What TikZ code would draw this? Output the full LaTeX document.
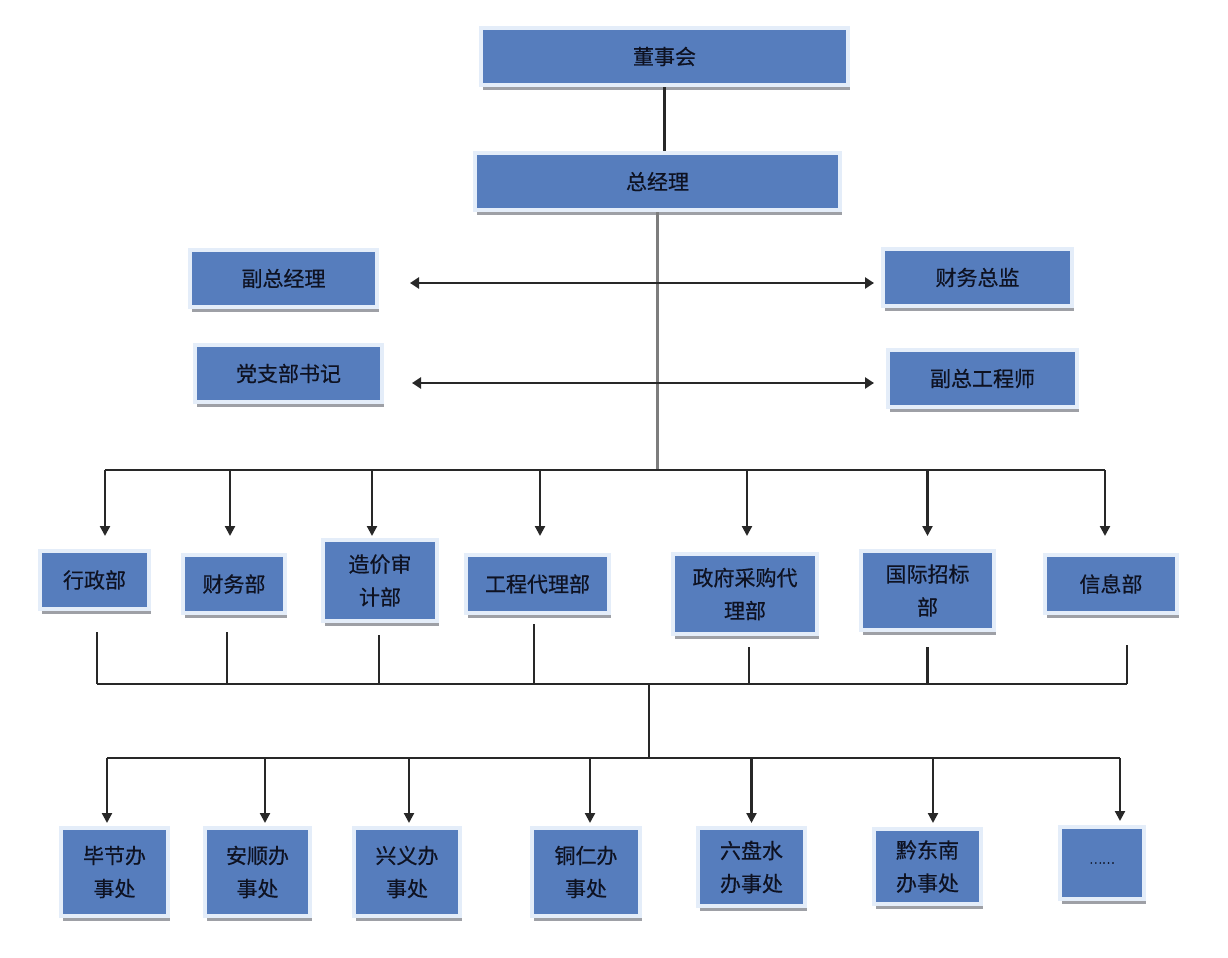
\documentclass[tikz,border=0pt]{standalone}
\usepackage{fontspec}
\newfontfamily\cjk[FakeBold=0.5]{Noto Sans CJK SC}
\usetikzlibrary{arrows.meta,shadows}
\definecolor{boxblue}{RGB}{86,125,189}
\definecolor{boxedge}{RGB}{228,237,249}
\definecolor{shadowgray}{RGB}{158,160,166}
\definecolor{txtdark}{RGB}{14,18,34}
\definecolor{linedark}{RGB}{40,40,40}
\definecolor{linegray}{RGB}{125,125,125}
\tikzset{
  orgbox/.style={rectangle, fill=boxblue, draw=boxedge, line width=2pt,
    inner sep=0pt, align=center, text=txtdark,
    font=\cjk\fontsize{10.5}{16.5}\selectfont,
    drop shadow={shadow xshift=1pt, shadow yshift=-2.5pt, fill=shadowgray, opacity=1}},
  ln/.style={draw=linedark, line width=1.1pt},
  trunk/.style={draw=linegray, line width=1.3pt},
  arr/.style={draw=linedark, line width=1.1pt, -{Triangle[width=5pt,length=5pt]}},
  darr/.style={draw=linedark, line width=1.2pt, {Triangle[width=5.5pt,length=4.5pt]}-{Triangle[width=5.5pt,length=4.5pt]}},
}
\begin{document}
\begin{tikzpicture}[x=0.5pt,y=-0.5pt]
\useasboundingbox[fill=white] (0,0) rectangle (1228,958);

% top
\node[orgbox, minimum width=183.5pt, minimum height=28.5pt] (dsh) at (664.5,56.5) {董事会};
\node[orgbox, minimum width=182.5pt, minimum height=28.5pt] (zjl) at (657.5,181.5) {总经理};
\node[orgbox, minimum width=93.5pt, minimum height=28.5pt] (fzjl) at (283.5,278.5) {副总经理};
\node[orgbox, minimum width=93.5pt, minimum height=28.5pt] (dzb) at (288.5,373.5) {党支部书记};
\node[orgbox, minimum width=94.5pt, minimum height=28.5pt] (cwzj) at (977.5,277.5) {财务总监};
\node[orgbox, minimum width=94.5pt, minimum height=28.5pt] (fzgcs) at (982.5,378.5) {副总工程师};

% row 2
\node[orgbox, minimum width=54.5pt, minimum height=29pt] (xzb) at (94.5,580) {行政部};
\node[orgbox, minimum width=51pt, minimum height=29pt] (cwb) at (234,584) {财务部};
\node[orgbox, minimum width=57pt, minimum height=40.5pt] (zjsj) at (380,580.5) {造价审\\计部};
\node[orgbox, minimum width=71.5pt, minimum height=29pt] (gcdl) at (537.5,584) {工程代理部};
\node[orgbox, minimum width=72pt, minimum height=40pt] (zfcg) at (745,594) {政府采购代\\理部};
\node[orgbox, minimum width=66.5pt, minimum height=39.5pt] (gjzb) at (927.5,590.5) {国际招标\\部};
\node[orgbox, minimum width=66pt, minimum height=29pt] (xxb) at (1111,584) {信息部};

% row 3
\node[orgbox, minimum width=53.5pt, minimum height=44pt] (bj) at (114.5,872) {毕节办\\事处};
\node[orgbox, minimum width=52.5pt, minimum height=44pt] (as) at (257.5,872) {安顺办\\事处};
\node[orgbox, minimum width=53pt, minimum height=44pt] (xy) at (407,872) {兴义办\\事处};
\node[orgbox, minimum width=54pt, minimum height=44pt] (tr) at (586,872) {铜仁办\\事处};
\node[orgbox, minimum width=53.5pt, minimum height=39pt] (lps) at (751.5,867) {六盘水\\办事处};
\node[orgbox, minimum width=53.5pt, minimum height=37.5pt] (qdn) at (927.5,866.5) {黔东南\\办事处};
\node[orgbox, minimum width=42pt, minimum height=36pt, font=\cjk\fontsize{6}{8}\selectfont] (more) at (1102,863) {……};

% coordinates
\coordinate (busAL) at (105,470);
\coordinate (busAR) at (1105,470);
\coordinate (tipA) at (0,536);
\coordinate (busBL) at (97,684);
\coordinate (busBR) at (1127,684);
\coordinate (jB) at (649,684);
\coordinate (jC) at (649,758);
\coordinate (busCL) at (107,758);
\coordinate (busCR) at (1120,758);
\coordinate (h1L) at (410,283);
\coordinate (h1R) at (874,283);
\coordinate (h2L) at (412,383);
\coordinate (h2R) at (874,383);

% top connectors
\draw[ln] (dsh.south) -- (dsh.south |- zjl.north);
\draw[trunk] (zjl.south) -- (zjl.south |- busAL);
\draw[darr] (h1L) -- (h1R);
\draw[darr] (h2L) -- (h2R);

% bus A and arrows to row 2
\draw[ln] (busAL) -- (busAR);
\draw[arr, transform canvas={xshift=5.25pt}] (xzb.north |- busAL) -- (xzb.north |- tipA);
\draw[arr, transform canvas={xshift=-2pt}] (cwb.north |- busAL) -- (cwb.north |- tipA);
\draw[arr, transform canvas={xshift=-4pt}] (zjsj.north |- busAL) -- (zjsj.north |- tipA);
\draw[arr, transform canvas={xshift=1.25pt}] (gcdl.north |- busAL) -- (gcdl.north |- tipA);
\draw[arr, transform canvas={xshift=1pt}] (zfcg.north |- busAL) -- (zfcg.north |- tipA);
\draw[arr] (gjzb.north |- busAL) -- (gjzb.north |- tipA);
\draw[arr, transform canvas={xshift=-3pt}] (xxb.north |- busAL) -- (xxb.north |- tipA);

% row 2 to bus B
\draw[ln, transform canvas={xshift=1.25pt}, shorten <=10.5pt] (xzb.south) -- (xzb.south |- busBL);
\draw[ln, transform canvas={xshift=-3.5pt}, shorten <=8.5pt] (cwb.south) -- (cwb.south |- busBL);
\draw[ln, transform canvas={xshift=-0.5pt}, shorten <=6pt] (zjsj.south) -- (zjsj.south |- busBL);
\draw[ln, transform canvas={xshift=-1.75pt}, shorten <=4.5pt] (gcdl.south) -- (gcdl.south |- busBL);
\draw[ln, transform canvas={xshift=2pt}, shorten <=5.5pt] (zfcg.south) -- (zfcg.south |- busBL);
\draw[ln, shorten <=7.5pt] (gjzb.south) -- (gjzb.south |- busBL);
\draw[ln, transform canvas={xshift=8pt}, shorten <=15pt] (xxb.south) -- (xxb.south |- busBL);
\draw[ln] (busBL) -- (busBR);
\draw[ln] (jB) -- (jC);

% bus C and arrows to row 3
\draw[ln] (busCL) -- (busCR);
\draw[arr, transform canvas={xshift=-3.75pt}, shorten >=1.5pt] (bj.north |- busCL) -- (bj.north);
\draw[arr, transform canvas={xshift=3.75pt}, shorten >=1.5pt] (as.north |- busCL) -- (as.north);
\draw[arr, transform canvas={xshift=1pt}, shorten >=1.5pt] (xy.north |- busCL) -- (xy.north);
\draw[arr, transform canvas={xshift=2pt}, shorten >=1.5pt] (tr.north |- busCL) -- (tr.north);
\draw[arr, shorten >=1.5pt] (lps.north |- busCL) -- (lps.north);
\draw[arr, transform canvas={xshift=2.75pt}, shorten >=2pt] (qdn.north |- busCL) -- (qdn.north);
\draw[arr, transform canvas={xshift=9pt}, shorten >=2pt] (more.north |- busCL) -- (more.north);
\end{tikzpicture}
\end{document}
